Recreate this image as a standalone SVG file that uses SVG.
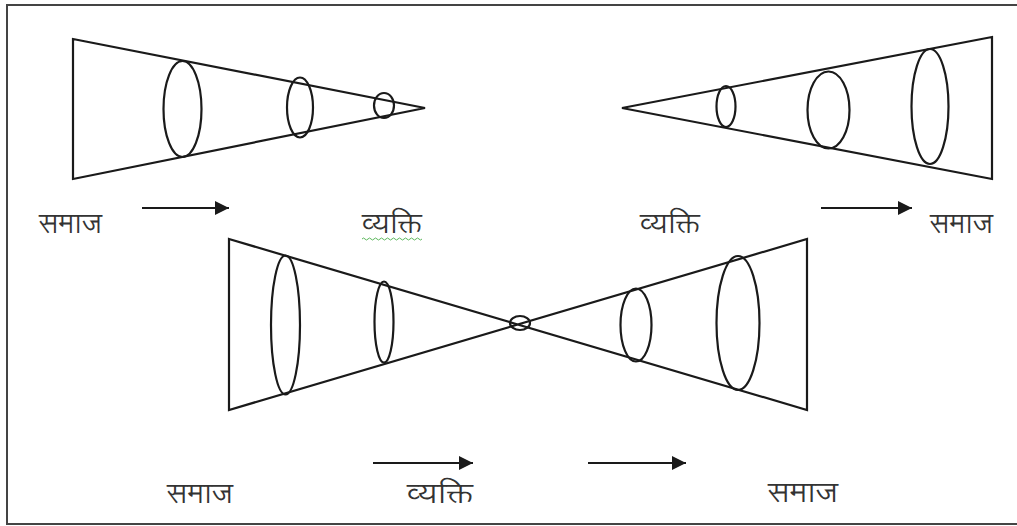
<svg xmlns="http://www.w3.org/2000/svg" width="1017" height="526" viewBox="0 0 1017 526">
<defs>
<style>
.ln{fill:none;stroke:#1a1a1a;stroke-width:2.2;stroke-linejoin:miter}
.el{fill:none;stroke:#1a1a1a;stroke-width:2.2}
.lbl{font-family:"Lohit Devanagari","FreeSerif","Noto Serif Devanagari","Noto Sans Devanagari",sans-serif;font-size:28px;font-weight:normal;fill:#333333}
.conn{stroke:#1a1a1a;stroke-width:2.2;fill:none}
</style>
<marker id="ah" viewBox="0 0 14 14" refX="14" refY="7" markerWidth="14" markerHeight="14" markerUnits="userSpaceOnUse" orient="auto">
<path d="M0,0 L14,7 L0,14 Z" fill="#1a1a1a"/>
</marker>
</defs>
<rect x="0" y="0" width="1017" height="526" fill="#ffffff"/>
<rect x="7" y="5" width="1030" height="519" fill="none" stroke="#444" stroke-width="2"/>

<g id="cone-top-left">
<polygon class="ln" points="73,39 425,108 73,179"/>
<ellipse class="el" cx="182.5" cy="109" rx="19" ry="48"/>
<ellipse class="el" cx="300" cy="107.5" rx="13" ry="30"/>
<ellipse class="el" cx="384" cy="105.5" rx="10" ry="12.5"/>
</g>

<g id="cone-top-right">
<polygon class="ln" points="992,37 622,108 992,179"/>
<ellipse class="el" cx="726" cy="106.5" rx="9.5" ry="20.5"/>
<ellipse class="el" cx="828.5" cy="110" rx="21" ry="38.5"/>
<ellipse class="el" cx="930" cy="106.5" rx="18.5" ry="57.5"/>
</g>

<g id="bowtie-bottom">
<path class="ln" d="M229,239 L807,410 L807,239 L229,410 Z"/>
<ellipse class="el" cx="285.5" cy="325" rx="14.5" ry="69.5"/>
<ellipse class="el" cx="384" cy="322" rx="9.5" ry="40.5"/>
<ellipse class="el" cx="520" cy="323" rx="10" ry="7" fill="#fff"/>
<ellipse class="el" cx="636" cy="325" rx="15.5" ry="36.5"/>
<ellipse class="el" cx="738" cy="323" rx="21.5" ry="67"/>
</g>

<g id="labels">
<text class="lbl" x="39" y="233" textLength="63" lengthAdjust="spacingAndGlyphs">समाज</text>
<text class="lbl" x="362" y="233" textLength="60" lengthAdjust="spacingAndGlyphs">व्यक्ति</text>
<path d="M362,239 q1.5,-2 3,0 t3,0 t3,0 t3,0 t3,0 t3,0 t3,0 t3,0 t3,0 t3,0 t3,0 t3,0 t3,0 t3,0 t3,0 t3,0 t3,0 t3,0 t3,0 t3,0" fill="none" stroke="#5cb85c" stroke-width="1"/>
<text class="lbl" x="640" y="233" textLength="60" lengthAdjust="spacingAndGlyphs">व्यक्ति</text>
<text class="lbl" x="930" y="233" textLength="63" lengthAdjust="spacingAndGlyphs">समाज</text>
<text class="lbl" x="167" y="503" textLength="66" lengthAdjust="spacingAndGlyphs">समाज</text>
<text class="lbl" x="407" y="503" textLength="66" lengthAdjust="spacingAndGlyphs">व्यक्ति</text>
<text class="lbl" x="768" y="502" textLength="70" lengthAdjust="spacingAndGlyphs">समाज</text>
</g>

<g id="connectors">
<line class="conn" x1="142" y1="208" x2="229" y2="208" marker-end="url(#ah)"/>
<line class="conn" x1="821" y1="208" x2="912" y2="208" marker-end="url(#ah)"/>
<line class="conn" x1="373" y1="463" x2="473" y2="463" marker-end="url(#ah)"/>
<line class="conn" x1="588" y1="463" x2="686" y2="463" marker-end="url(#ah)"/>
</g>
</svg>
